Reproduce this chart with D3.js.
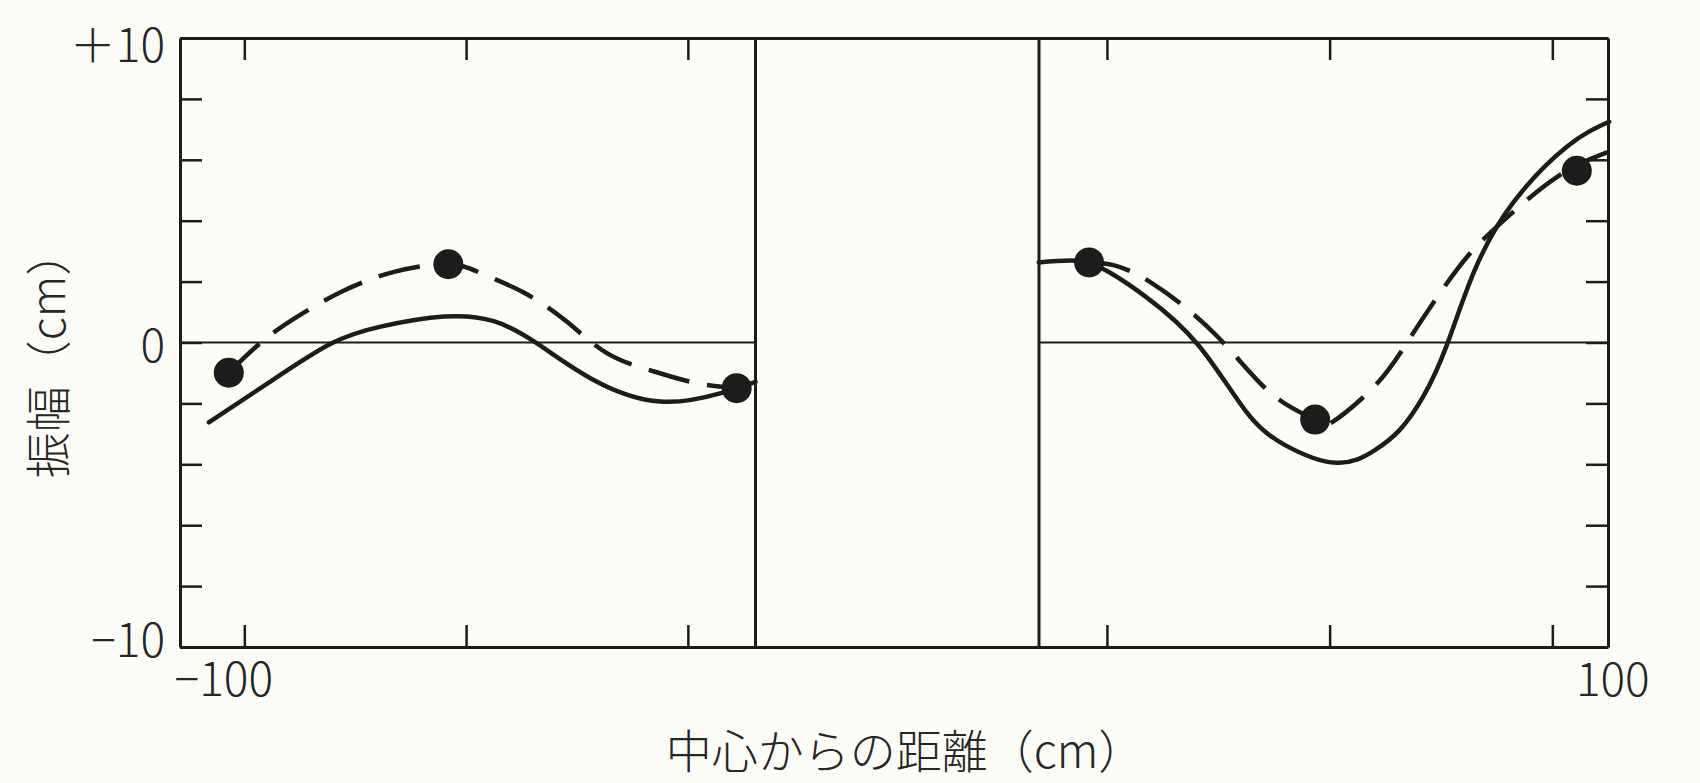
<!DOCTYPE html>
<html>
<head>
<meta charset="utf-8">
<script src="https://cdn.jsdelivr.net/npm/d3@7"></script>
<style>
  html, body { margin: 0; padding: 0; background: #fdfdf8; }
  svg { display: block; }
  text { font-family: "Noto Sans CJK JP", "Noto Sans", sans-serif; font-weight: 300; fill: #262626; }
</style>
</head>
<body>
<div id="chart"></div>
<script>
// measured amplitudes (distance from centre cm, amplitude cm)
const dotX = [-101.4, -81.6, -55.6, 58.4, 78.7, 102.2];
const dotY = [-0.99, 2.57, -1.50, 2.63, -2.53, 5.64];

const leftSolid = [[-103.2,-2.62],[-97.8,-1.32],[-92.3,-0.06],[-87.7,0.52],[-82.0,0.85],[-77.5,0.70],
  [-73.6,-0.03],[-68.5,-1.23],[-62.5,-1.94],[-57.1,-1.67],[-53.9,-1.29]];
const leftDashed = [[-101.4,-0.99],[-98.3,0.06],[-95.0,0.9],[-91.1,1.69],[-86.5,2.32],[-81.6,2.57],
  [-78.5,2.25],[-74.8,1.64],[-70.9,0.68],[-67.3,-0.35],[-63.5,-0.9],[-59.4,-1.32],[-55.6,-1.50]];
const rightSolid = [[53.8,2.63],[57.5,2.68],[60.1,2.33],[63.5,1.5],[68.2,-0.08],[72.4,-2.22],[76.0,-3.37],
  [80.6,-3.95],[84.0,-3.55],[86.3,-2.87],[88.4,-1.78],[90.5,-0.11],[93.0,2.35],[96.5,4.6],[101.3,6.43],[105.1,7.25]];
const rightDashed = [[58.4,2.63],[60.5,2.55],[64.0,1.96],[69.7,0.28],[74.8,-1.69],[78.7,-2.55],[80.1,-2.65],
  [84.05,-1.43],[87.4,0.25],[91.4,2.38],[95.0,3.80],[100.4,5.43],[105.1,6.27]];

// broken x axis: the part between the two panels is left out
const xBreak = [-105.8, -53.9, 53.9, 105.0];
const xTicks = [-100, -80, -60, 60, 80, 100];
const xTickLabels = {"-100": "\u2212100", "100": "100"};
const yTicks = [-10, -8, -6, -4, -2, 0, 2, 4, 6, 8, 10];
const yTickLabels = {"10": "\uFF0B10", "0": "0", "-10": "\u221210"};

const xTitle = "中心からの距離（cm）";
const yTitle = "振幅（cm）";

const width = 1700, height = 783;
const ink = "#1c1c1c";

const svg = d3.select("#chart").append("svg")
  .attr("width", width)
  .attr("height", height);

svg.append("rect").attr("width", width).attr("height", height).attr("fill", "#fdfdf8");

const x = d3.scaleLinear().domain(xBreak).range([180, 755.5, 1039, 1608]);
const y = d3.scaleLinear().domain([-10, 10]).range([647, 38]);

// zero lines, one per panel
[[xBreak[0], xBreak[1]], [xBreak[2], xBreak[3]]].forEach(p => {
  svg.append("line")
    .attr("x1", x(p[0])).attr("x2", x(p[1]))
    .attr("y1", y(0)).attr("y2", y(0))
    .attr("stroke", ink).attr("stroke-width", 2);
});

// axes, ticks pointing inwards
const styleAxis = g => {
  g.attr("font-size", null).attr("font-family", null);
  g.select(".domain").attr("stroke", ink).attr("stroke-width", 3);
  g.selectAll(".tick line").attr("stroke", ink).attr("stroke-width", 2.5);
  g.selectAll(".tick text").attr("font-size", 46).attr("fill", "#262626");
};

svg.append("g")
  .attr("transform", `translate(0,${y(-10)})`)
  .call(d3.axisBottom(x).tickValues(xTicks).tickSizeInner(-22).tickSizeOuter(0)
    .tickFormat(d => xTickLabels[d] || ""))
  .call(styleAxis)
  .call(g => g.selectAll(".tick text")
    .attr("y", 49).attr("dy", 0)
    .attr("dx", d => d < 0 ? -21 : 60));

svg.append("g")
  .attr("transform", `translate(0,${y(10)})`)
  .call(d3.axisTop(x).tickValues(xTicks).tickSizeInner(-22).tickSizeOuter(0).tickFormat(""))
  .call(styleAxis);

svg.append("g")
  .attr("transform", `translate(${x(xBreak[0])},0)`)
  .call(d3.axisLeft(y).tickValues(yTicks).tickSizeInner(-22).tickSizeOuter(0).tickPadding(15)
    .tickFormat(d => yTickLabels[d] || ""))
  .call(styleAxis)
  .call(g => g.selectAll(".tick text")
    .attr("dy", d => d > 0 ? "0.52em" : d < 0 ? "0.2em" : "0.42em"));

svg.append("g")
  .attr("transform", `translate(${x(xBreak[3])},0)`)
  .call(d3.axisRight(y).tickValues(yTicks).tickSizeInner(-22).tickSizeOuter(0).tickFormat(""))
  .call(styleAxis);

// inner edges of the two panels
[xBreak[1], xBreak[2]].forEach(v => {
  svg.append("line")
    .attr("x1", x(v)).attr("x2", x(v))
    .attr("y1", y(10)).attr("y2", y(-10))
    .attr("stroke", ink).attr("stroke-width", 3);
});

const line = d3.line()
  .x(d => x(d[0]))
  .y(d => y(d[1]))
  .curve(d3.curveNatural);

[leftSolid, rightSolid].forEach(s => {
  svg.append("path").datum(s)
    .attr("d", line)
    .attr("fill", "none").attr("stroke", ink).attr("stroke-width", 4.5)
    .attr("stroke-linecap", "round");
});

[leftDashed, rightDashed].forEach(s => {
  svg.append("path").datum(s)
    .attr("d", line)
    .attr("fill", "none").attr("stroke", ink).attr("stroke-width", 4.5)
    .attr("stroke-dasharray", "42,18");
});

svg.append("g")
  .selectAll("circle")
  .data(d3.range(dotX.length))
  .join("circle")
  .attr("cx", i => x(dotX[i]))
  .attr("cy", i => y(dotY[i]))
  .attr("r", 15)
  .attr("fill", ink);

// titles
svg.append("text")
  .attr("x", 905).attr("y", 768)
  .attr("text-anchor", "middle")
  .attr("font-size", 46)
  .text(xTitle);

svg.append("text")
  .attr("transform", "translate(65,354) rotate(-90)")
  .attr("text-anchor", "middle")
  .attr("font-size", 46)
  .text(yTitle);
</script>
</body>
</html>
